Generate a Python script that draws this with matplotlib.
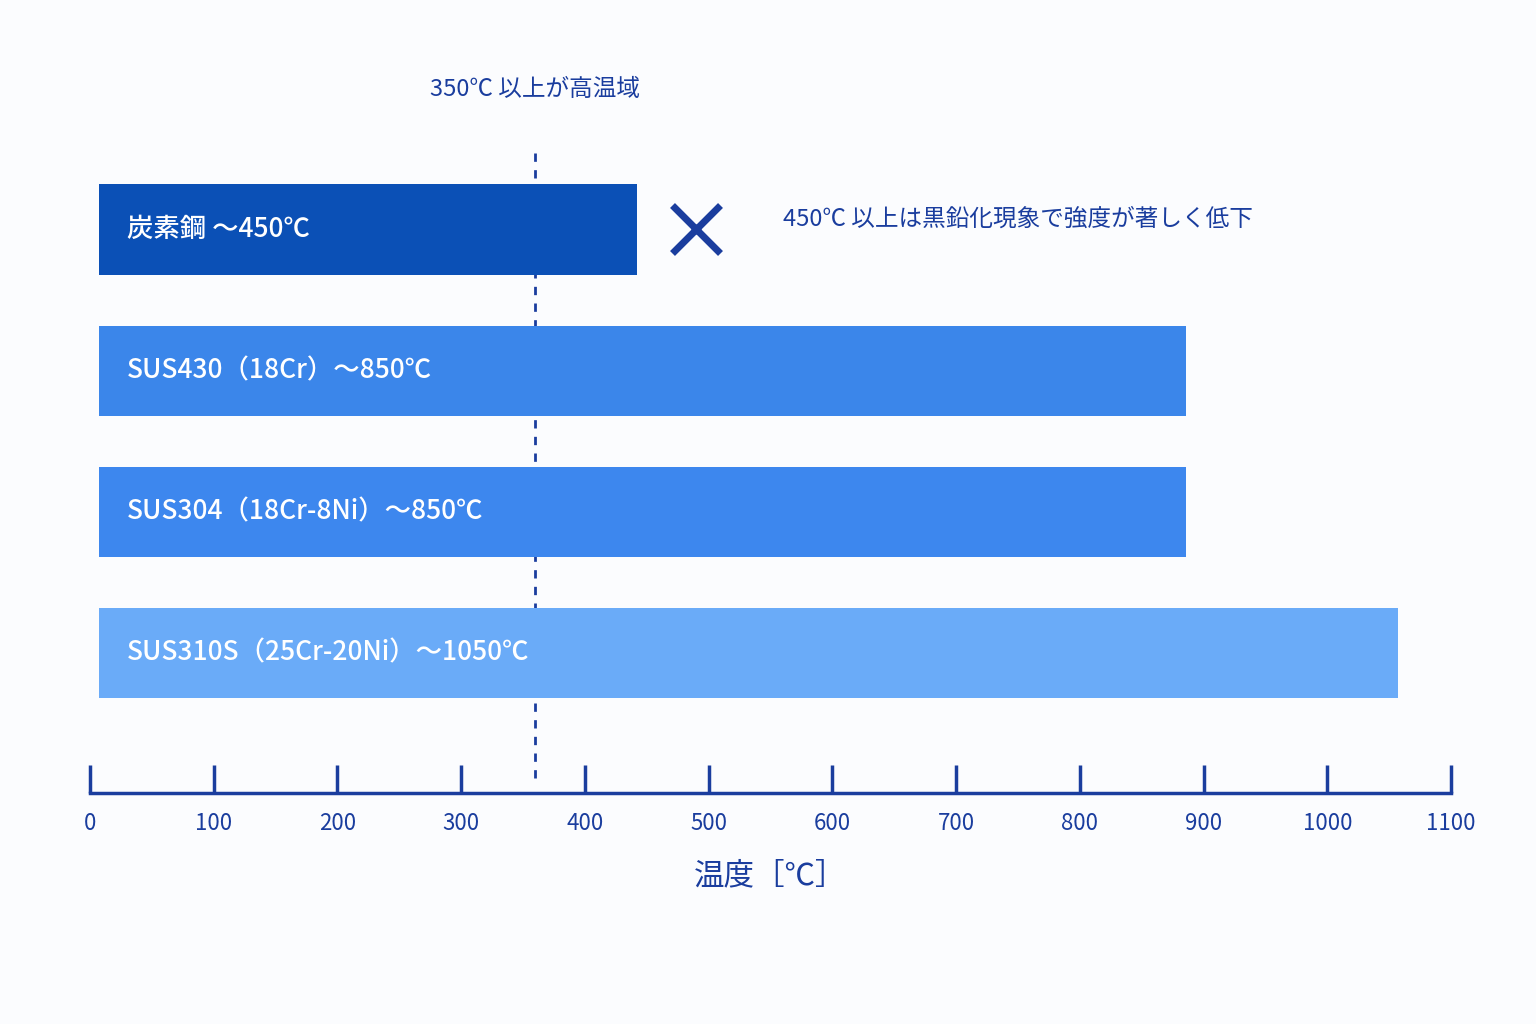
import matplotlib
matplotlib.use("Agg")
import matplotlib.pyplot as plt

plt.rcParams['font.family'] = ['Noto Sans CJK JP', 'DejaVu Sans']

labels = ["炭素鋼 ～450℃", "SUS430（18Cr）～850℃", "SUS304（18Cr-8Ni）～850℃", "SUS310S（25Cr-20Ni）～1050℃"]
starts = [7, 7, 7, 7]
ends = [442, 886, 886, 1057]
colors = ["#0b50b6", "#3b86ea", "#3d87ee", "#6aabf8"]
ticks = [0, 100, 200, 300, 400, 500, 600, 700, 800, 900, 1000, 1100]
threshold = 360
dark = "#1a3d9e"

fig = plt.figure(figsize=(15.36, 10.24), dpi=100, facecolor="#fbfcfe")
ax = fig.add_axes([90/1536, 1-793/1024, (1451-90)/1536, (793-60)/1024])
ax.set_facecolor("#fbfcfe")
ax.set_xlim(0, 1100)
ax.set_ylim(3.99, -1.2)

for i, (s, e, c, l) in enumerate(zip(starts, ends, colors, labels)):
    ax.barh(i, e - s, left=s, height=0.64, color=c, zorder=2)
    ax.text(s + 23, i, l, color="white", fontsize=19, va="center", ha="left", zorder=3, fontweight="medium")

ax.axvline(threshold, ymin=0.02, ymax=0.88, color=dark, ls=(0, (3, 3)), lw=2, zorder=1)
ax.text(threshold, -0.99, "350℃ 以上が高温域", color=dark, fontsize=17, ha="center", va="center")
ax.plot([490], [0], marker="x", markersize=34, mew=5, color=dark)
ax.text(560, -0.07, "450℃ 以上は黒鉛化現象で強度が著しく低下", color=dark, fontsize=17, ha="left", va="center")

for sp in ["top", "left", "right"]:
    ax.spines[sp].set_visible(False)
ax.spines["bottom"].set_color(dark)
ax.spines["bottom"].set_linewidth(2.5)
ax.set_yticks([])
ax.set_xticks(ticks)
ax.set_xticklabels([str(t) for t in ticks], color=dark, fontsize=16)
ax.tick_params(axis="x", direction="in", length=20, width=2.5, color=dark, pad=14)
ax.set_xlabel("温度［℃］", color=dark, fontsize=22, labelpad=18)

fig.savefig("out.png", dpi=100, facecolor=fig.get_facecolor())
